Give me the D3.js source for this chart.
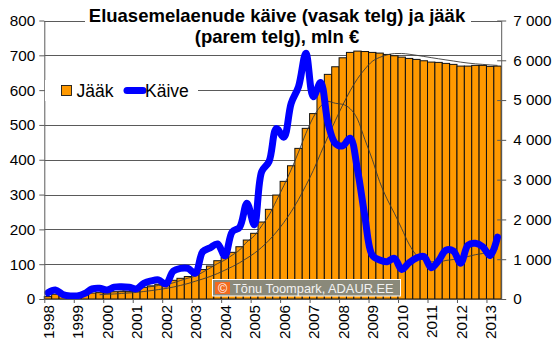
<!DOCTYPE html>
<html><head><meta charset="utf-8">
<script src="https://cdn.jsdelivr.net/npm/d3@7"></script>
<style>
body{margin:0;background:#fff}
svg{display:block}
text{font-family:"Liberation Sans",Arial,sans-serif;fill:#000}
</style>
</head><body>
<svg id="c" width="560" height="342"></svg>
<script>
// ---- data ----
const years = [1998,1999,2000,2001,2002,2003,2004,2005,2006,2007,2008,2009,2010,2011,2012,2013];
const quarterNames = ["I","II","III","IV"];
const quarters = years.flatMap(y => quarterNames.map(q => y + " " + q)).slice(0, 62);
// loan stock (jääk), mln €, right axis
const jaak = [60,120,90,80,90,110,150,160,150,185,185,185,200,290,330,370,370,470,520,565,
  660,740,829,962,1048,1173,1314,1482,1651,1935,2254,2613,2957,3349,3786,4289,4660,5377,5646,5837,
  6063,6198,6231,6220,6198,6181,6147,6114,6080,6047,6022,5988,5955,5947,5922,5897,5854,5854,5872,5872,5847,5854];
// turnover (käive), mln €, left axis
const kaive = [18,26,13,9,9,16,29,31,26,34,35,34,29,45,52,55,43,80,88,88,
  74,136,147,158,124,193,206,275,213,366,395,490,465,562,610,706,581,622,505,447,
  440,462,371,237,126,112,107,117,85,104,118,122,90,110,140,138,103,155,160,150,125,178];
const leftTicks = [0,100,200,300,400,500,600,700,800];
const rightTicks = [0,1000,2000,3000,4000,5000,6000,7000];
const titleLines = ["Eluasemelaenude käive (vasak telg) ja jääk", "(parem telg), mln €"];
const legendLabels = ["Jääk", "Käive"];
const watermarkText = "Tõnu Toompark, ADAUR.EE";
const maPeriod = 8;

// ---- layout ----
const L = 44.3, R = 501.2, T = 20.5, B = 299;
const svg = d3.select("#c");
svg.append("rect").attr("width",560).attr("height",342).attr("fill","#fff");

const x = d3.scaleBand().domain(quarters).range([L, R]).padding(0);
const bw = x.bandwidth();
const xYear = d3.scaleLinear().domain([years[0], years[0] + quarters.length / 4]).range([L, R]);
const yL = d3.scaleLinear().domain([0, 800]).range([B, T]);
const yR = d3.scaleLinear().domain([0, 7000]).range([B, T]);
const gridCol = "#5a5a5a";

// gridlines
svg.append("g").selectAll("line").data(leftTicks.filter(d => d > 0)).join("line")
  .attr("x1", L).attr("x2", R)
  .attr("y1", d => Math.round(yL(d)) + 0.5).attr("y2", d => Math.round(yL(d)) + 0.5)
  .attr("stroke", gridCol).attr("stroke-width", 1);

// bars
svg.append("g").selectAll("rect").data(jaak).join("rect")
  .attr("x", (d, i) => x(quarters[i]))
  .attr("width", bw)
  .attr("y", d => yR(d))
  .attr("height", d => B - yR(d))
  .attr("fill", "#FF9900")
  .attr("stroke", "#111").attr("stroke-width", 1);

// moving averages (trendlines)
function movingAvg(arr, n) {
  return arr.map((v, i) => i < n - 1 ? null : d3.mean(arr.slice(i - n + 1, i + 1)));
}
const maJ = movingAvg(jaak, maPeriod), maK = movingAvg(kaive, maPeriod);
const cx = i => x(quarters[i]) + bw / 2;
svg.append("path")
  .attr("d", d3.line().defined(d => d != null).x((d, i) => cx(i)).y(d => yR(d)).curve(d3.curveMonotoneX)(maJ))
  .attr("fill", "none").attr("stroke", "#3a3a3a").attr("stroke-width", 0.9);
svg.append("path")
  .attr("d", d3.line().defined(d => d != null).x((d, i) => cx(i)).y(d => yL(d)).curve(d3.curveMonotoneX)(maK))
  .attr("fill", "none").attr("stroke", "#3a3a3a").attr("stroke-width", 0.9);

// turnover line
svg.append("path")
  .attr("d", d3.line().x((d, i) => cx(i)).y(d => yL(d)).curve(d3.curveCatmullRom.alpha(0.5))(kaive))
  .attr("fill", "none").attr("stroke", "#0000FF").attr("stroke-width", 7)
  .attr("stroke-linecap", "round").attr("stroke-linejoin", "round");

// axes
const fs = 15.3;
const axL = svg.append("g").attr("transform", `translate(${L},0)`)
  .call(d3.axisLeft(yL).tickValues(leftTicks).tickSize(5).tickSizeOuter(0).tickPadding(4));
const fmtR = v => d3.format(",")(v).replace(/,/g, " ");
const axR = svg.append("g").attr("transform", `translate(${R},0)`)
  .call(d3.axisRight(yR).tickValues(rightTicks).tickFormat(fmtR).tickSize(5).tickSizeOuter(0).tickPadding(7));
axR.selectAll(".tick line").attr("x1", -4);
const axB = svg.append("g").attr("transform", `translate(0,${B})`)
  .call(d3.axisBottom(xYear).tickValues(years).tickFormat(d3.format("d")).tickSize(4).tickSizeOuter(0));
axB.selectAll(".tick text")
  .attr("x", 0).attr("y", 0).attr("dy", "0.35em")
  .attr("transform", `translate(${bw / 2},6) rotate(-90)`)
  .style("text-anchor", "end");
[axL, axR, axB].forEach(a => {
  a.selectAll("text").attr("font-size", fs).attr("font-family", '"Liberation Sans",Arial,sans-serif').attr("fill", "#000");
  a.selectAll("line,path").attr("stroke", gridCol);
});

// title box
svg.append("rect").attr("x", 85).attr("y", 3).attr("width", 386).attr("height", 46).attr("fill", "#fff");
svg.append("g").selectAll("text").data(titleLines).join("text")
  .attr("x", 277).attr("y", (d, i) => 21.5 + i * 21.5)
  .attr("text-anchor", "middle").attr("font-weight", "bold").attr("font-size", 18.5)
  .text(d => d);

// legend
const lg = svg.append("g");
lg.append("rect").attr("x", 45).attr("y", 80).attr("width", 153).attr("height", 21).attr("fill", "#fff");
lg.append("rect").attr("x", 61.5).attr("y", 85.5).attr("width", 10).attr("height", 10)
  .attr("fill", "#FF9900").attr("stroke", "#1a1a1a").attr("stroke-width", 0.9);
lg.append("text").attr("x", 76.5).attr("y", 96.5).attr("font-size", 17.5).text(legendLabels[0]);
lg.append("line").attr("x1", 127).attr("x2", 143).attr("y1", 90.5).attr("y2", 90.5)
  .attr("stroke", "#0000FF").attr("stroke-width", 7).attr("stroke-linecap", "round");
lg.append("text").attr("x", 145).attr("y", 96.5).attr("font-size", 17.5).text(legendLabels[1]);

// watermark
const wm = svg.append("g");
wm.append("rect").attr("x", 212.5).attr("y", 279.5).attr("width", 188).attr("height", 16.5)
  .attr("fill", "#8a897a").attr("stroke", "#ffffff").attr("stroke-width", 1);
wm.append("rect").attr("x", 215).attr("y", 282).attr("width", 15).attr("height", 12).attr("fill", "#f26a1f");
wm.append("text").attr("x", 222.5).attr("y", 292.5).attr("text-anchor", "middle")
  .attr("font-size", 12.5).style("fill", "#fff").attr("font-family", '"DejaVu Sans",sans-serif').text("©");
wm.append("text").attr("x", 233).attr("y", 292.8)
  .attr("font-size", 12.8).style("fill", "#f2f2f2").attr("font-family", '"DejaVu Sans",sans-serif').text(watermarkText);
</script>
</body></html>
